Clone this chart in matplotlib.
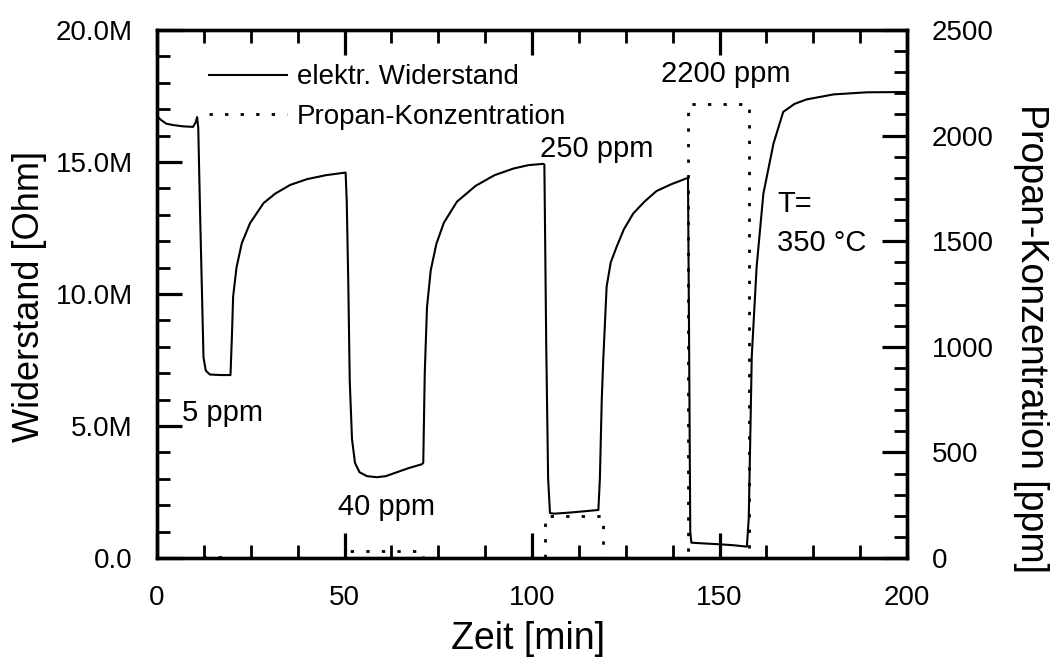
import matplotlib
matplotlib.use("Agg")
import matplotlib.pyplot as plt
from matplotlib.ticker import MultipleLocator, FixedLocator, FixedFormatter

plt.rcParams['font.family'] = ['Liberation Sans', 'DejaVu Sans']

# Resistance (MOhm) vs time (min)
t_res = [0, 1, 2.5, 4.3, 7, 9.6, 10.3, 10.7, 11.0, 11.5, 12.0, 12.4, 13.0, 14.1, 17, 19.6,
         20.0, 20.3, 21.2, 22.6, 24.8, 28.4, 31.5, 35.5, 40, 45, 50.3,
         50.6, 51.0, 51.4, 52.0, 52.8, 54, 56, 58.6, 61, 64, 67, 70.6,
         71.0, 71.4, 72.0, 73.0, 74.5, 76.5, 80, 85, 90, 95, 99, 103.0,
         103.3, 103.8, 104.3, 104.8, 106, 110, 114, 117.7,
         118.1, 118.6, 119.0, 119.9, 121, 122.6, 124.5, 127, 130, 133.2, 137, 141.2,
         141.6, 141.9, 142.2, 142.5, 146, 150, 154, 157.3,
         157.8, 158.2, 158.6, 159.9, 161.7, 164.4, 167, 170, 173.2, 180.4, 189.3, 199, 200]
r_res = [16.74, 16.6, 16.45, 16.4, 16.35, 16.33, 16.5, 16.7, 16.3, 13.0, 10.0, 7.6, 7.1, 6.95, 6.93, 6.93,
         8.5, 9.9, 11.0, 11.92, 12.68, 13.44, 13.8, 14.13, 14.35, 14.5, 14.6,
         13.5, 10.5, 6.7, 4.5, 3.6, 3.25, 3.1, 3.06, 3.1, 3.25, 3.4, 3.55,
         3.6, 7.0, 9.5, 10.9, 11.9, 12.7, 13.5, 14.1, 14.5, 14.75, 14.88, 14.93,
         14.9, 8.0, 3.0, 1.7, 1.68, 1.72, 1.77, 1.82,
         3.0, 6.0, 7.5, 10.28, 11.2, 11.8, 12.45, 13.05, 13.5, 13.9, 14.15, 14.38,
         14.4, 8.0, 1.0, 0.58, 0.55, 0.52, 0.48, 0.43,
         1.5, 4.5, 7.63, 11.03, 13.8, 15.7, 16.9, 17.2, 17.37, 17.56, 17.64, 17.65, 17.65]

# Propane concentration (ppm)
t_conc = [0, 11, 11, 19.5, 19.5, 51, 51, 71, 71, 103.4, 103.4, 118.8, 118.8,
          141.7, 141.7, 157.8, 157.8, 200]
conc = [0, 0, 5, 5, 0, 0, 35, 35, 0, 0, 200, 200, 0, 0, 2150, 2150, 0, 0]

x_ticks = [0, 50, 100, 150, 200]
y_ticks = [0, 5, 10, 15, 20]
y_ticklabels = ["0.0", "5.0M", "10.0M", "15.0M", "20.0M"]
y2_ticks = [0, 500, 1000, 1500, 2000, 2500]

annotations = [("5 ppm", 6.6, 5.49), ("40 ppm", 48.3, 1.94), ("250 ppm", 102.1, 15.5),
               ("2200 ppm", 134.4, 18.33), ("T=", 165.4, 13.4), ("350 °C", 165.4, 11.93)]

fig = plt.figure(figsize=(10.51, 6.62), dpi=100)
ax = fig.add_axes([157/1051, 1-558/662, 750/1051, 528/662])
ax2 = ax.twinx()

fs = 20
ax.plot(t_res, r_res, color='black', lw=1.5, label='elektr. Widerstand')
ax2.plot(t_conc, conc, color='black', lw=2.0, linestyle=(0, (1.2, 4.4)), label='Propan-Konzentration')

ax.set_xlim(0, 200)
ax.set_ylim(0, 20)
ax2.set_ylim(0, 2500)

ax.xaxis.set_major_locator(FixedLocator(x_ticks))
ax.xaxis.set_minor_locator(MultipleLocator(12.5))
ax.yaxis.set_major_locator(FixedLocator(y_ticks))
ax.yaxis.set_major_formatter(FixedFormatter(y_ticklabels))
ax.yaxis.set_minor_locator(MultipleLocator(1))
ax2.yaxis.set_major_locator(FixedLocator(y2_ticks))
ax2.yaxis.set_minor_locator(MultipleLocator(100))

ax.tick_params(axis='x', which='both', direction='in', top=True, bottom=True, labelsize=fs, pad=19.5)
ax.tick_params(axis='y', which='both', direction='in', left=True, right=False, labelsize=fs, pad=17.3)
ax2.tick_params(axis='y', which='both', direction='in', right=True, left=False, labelsize=fs, pad=17.6)
for a in (ax, ax2):
    a.tick_params(which='major', length=18, width=2.3)
    a.tick_params(which='minor', length=9.5, width=2.0)
    for s in a.spines.values():
        s.set_linewidth(2.4)

ax.set_xlabel("Zeit [min]", fontsize=27, va='center')
ax.xaxis.set_label_coords((528 - 157) / 750, (558 - 639) / 528)
ax.set_ylabel("Widerstand [Ohm]", fontsize=26, va='center', ha='center')
ax.yaxis.set_label_coords((30 - 157) / 750, (558 - 296) / 528)
ax2.set_ylabel("Propan-Konzentration [ppm]", fontsize=27, rotation=270, va='center', ha='center')
ax2.yaxis.set_label_coords((1031 - 157) / 750, (558 - 338) / 528)

for txt, x, y in annotations:
    ax.text(x, y, txt, fontsize=21, ha='left', va='center')

h1, l1 = ax.get_legend_handles_labels()
h2, l2 = ax2.get_legend_handles_labels()
leg = ax.legend(h1 + h2, l1 + l2, loc='upper left', bbox_to_anchor=(0.055, 0.956),
                frameon=False, fontsize=fs, handlelength=2.8, handletextpad=0.35,
                labelspacing=0.48, borderaxespad=0)

fig.savefig("out.png", dpi=100)
